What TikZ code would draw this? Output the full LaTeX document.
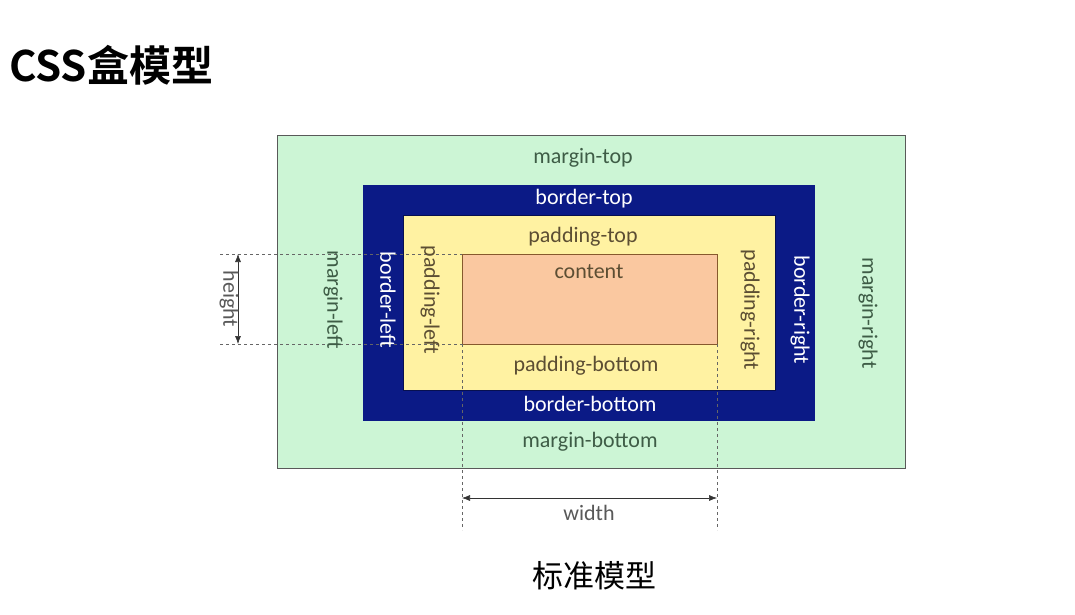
\documentclass[tikz,border=0pt]{standalone}
\usepackage{fontspec}
\usetikzlibrary{arrows.meta}
\setmainfont{Carlito}
\newfontfamily\cjk[BoldFont={Noto Sans CJK SC Bold}]{Noto Sans CJK SC}
\definecolor{mgreen}{HTML}{CCF5D5}
\definecolor{bnavy}{HTML}{0B1A86}
\definecolor{pyellow}{HTML}{FFF2A2}
\definecolor{cpeach}{HTML}{FAC8A0}
\definecolor{mtext}{HTML}{3E5C46}
\definecolor{ptext}{HTML}{5C4E33}
\begin{document}
\begin{tikzpicture}[x=1pt,y=-1pt,
  lbl/.style={font=\fontsize{22}{25}\selectfont,inner sep=0pt},
  vlbl/.style={lbl,rotate=-90},
  dim/.style={gray!80!black,dash pattern=on 3pt off 3pt},
  arr/.style={black!80,{Latex[length=8pt,width=6pt]}-{Latex[length=8pt,width=6pt]},semithick}]
\useasboundingbox[fill=white] (0,0) rectangle (1075,615);
\node[font=\cjk\bfseries\fontsize{42}{45}\selectfont,anchor=west,inner sep=0pt] (title) at (9,65) {CSS盒模型};
% nested boxes
\draw[gray!70!black,fill=mgreen] (277,135) rectangle (905,468);
\fill[bnavy] (363,185) rectangle (815,421);
\draw[bnavy!60!black,fill=pyellow] (403,215) rectangle (775,390);
\draw[brown!70!black,fill=cpeach] (462,254) rectangle (717,344);
% dimension lines
\coordinate (htop) at (220,254); \coordinate (hbot) at (220,344);
\coordinate (ctl) at (462,254); \coordinate (cbl) at (462,344); \coordinate (cbr) at (717,344);
\coordinate (wl) at (462,530); \coordinate (wr) at (717,530);
\draw[dim] (htop) -- (ctl); \draw[dim] (hbot) -- (cbl);
\draw[dim] (cbl) -- (wl); \draw[dim] (cbr) -- (wr);
\coordinate (ha) at (238,254); \coordinate (hb) at (238,344);
\coordinate (wa) at (462,498); \coordinate (wb) at (717,498);
\draw[arr] (ha) -- (hb); \draw[arr] (wa) -- (wb);
\node[vlbl,text=black!65] (height) at (229,299) {height};
\node[lbl,text=black!65] (width) at (589,513) {width};
% labels
\node[lbl,text=mtext] (mtop) at (583,158) {margin-top};
\node[lbl,text=mtext] (mbot) at (590,442) {margin-bottom};
\node[vlbl,text=mtext] (mleft) at (333,300) {margin-left};
\node[vlbl,text=mtext] (mright) at (868,313) {margin-right};
\node[lbl,text=white] (btop) at (584,199) {border-top};
\node[lbl,text=white] (bbot) at (590,404) {border-bottom};
\node[vlbl,text=white] (bleft) at (388,300) {border-left};
\node[vlbl,text=white] (bright) at (800,310) {border-right};
\node[lbl,text=ptext] (ptop) at (583,237) {padding-top};
\node[lbl,text=ptext] (pbot) at (586,366) {padding-bottom};
\node[vlbl,text=ptext] (pleft) at (430,300) {padding-left};
\node[vlbl,text=ptext] (pright) at (750,310) {padding-right};
\node[lbl,text=ptext] (content) at (589,272) {content};
\node[font=\cjk\fontsize{31}{34}\selectfont,inner sep=0pt] (caption) at (594,576) {标准模型};
\end{tikzpicture}
\end{document}
